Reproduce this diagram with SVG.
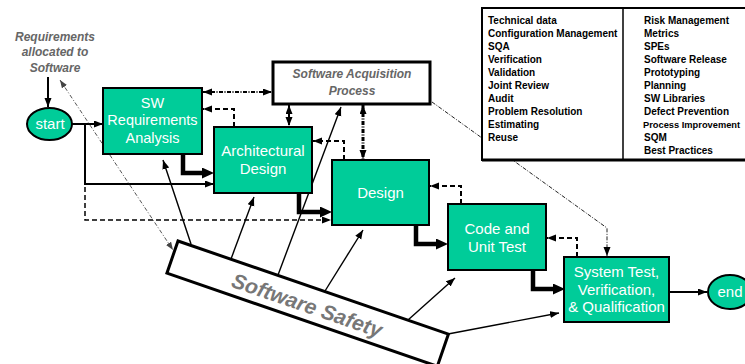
<svg xmlns="http://www.w3.org/2000/svg" width="745" height="364" viewBox="0 0 745 364">
<style>
.box{fill:#00CC99;stroke:#000;stroke-width:2}
.bt{font-family:"Liberation Sans",Arial,sans-serif;font-size:15px;fill:#fff;text-anchor:middle}
.gt{font-family:"Liberation Sans",Arial,sans-serif;font-weight:bold;font-style:italic;fill:#666;text-anchor:middle}
.tt{font-family:"Liberation Sans",Arial,sans-serif;font-weight:bold;font-size:10px;fill:#000}
.ln{fill:none;stroke:#000;stroke-width:2}
.thin{fill:none;stroke:#000;stroke-width:1.4}
.thick{fill:none;stroke:#000;stroke-width:4.5}
.dash{fill:none;stroke:#000;stroke-width:2;stroke-dasharray:5,3}
.dd{fill:none;stroke:#000;stroke-width:2;stroke-dasharray:4,1.5,1,1.5}
.gd{fill:none;stroke:#555;stroke-width:1;stroke-dasharray:4,2,1,2}
</style>
<defs>
<marker id="ah" markerUnits="userSpaceOnUse" markerWidth="10" markerHeight="8" refX="9" refY="3.5" orient="auto-start-reverse"><path d="M0,0 L9,3.5 L0,7 z" fill="#000"/></marker>
<marker id="aT" markerUnits="userSpaceOnUse" markerWidth="13" markerHeight="12" refX="0" refY="5.5" orient="auto"><path d="M0,0 L12,5.5 L0,11 z" fill="#000"/></marker>
<marker id="aG" markerUnits="userSpaceOnUse" markerWidth="10" markerHeight="8" refX="8" refY="3" orient="auto-start-reverse"><path d="M0,0 L8,3 L0,6 z" fill="#444"/></marker>
</defs>

<g id="connectors">
<path class="ln" d="M48,77 V107" marker-end="url(#ah)"/>
<path class="ln" d="M72,124 H103" marker-end="url(#ah)"/>
<path class="ln" d="M85,124 V184 H214" marker-end="url(#ah)"/>
<path class="dash" d="M85,187 V220 H331" marker-end="url(#ah)" style="stroke-width:1.5"/>
<path class="thick" d="M183,154 V173 H202" marker-end="url(#aT)"/>
<path class="thick" d="M299,193 V212 H320" marker-end="url(#aT)"/>
<path class="thick" d="M416,225 V244 H436" marker-end="url(#aT)"/>
<path class="thick" d="M533,270 V289 H553" marker-end="url(#aT)"/>
<path class="ln" d="M669,292 H707" marker-end="url(#ah)"/>
<path class="dash" d="M234,127 V109 H203" marker-end="url(#ah)"/>
<path class="dash" d="M344,160 V141 H313" marker-end="url(#ah)"/>
<path class="dash" d="M461,204 V186 H430" marker-end="url(#ah)"/>
<path class="dash" d="M577,257 V238 H547" marker-end="url(#ah)"/>
<path class="dd" d="M203,92 H272" marker-start="url(#ah)" marker-end="url(#ah)"/>
<path class="dd" d="M289,105 V126" marker-start="url(#ah)" marker-end="url(#ah)"/>
<path class="dd" d="M363,105 V159" marker-start="url(#ah)" marker-end="url(#ah)" style="stroke-width:3"/>
<path class="dd" d="M432,102 L607,228 V256" marker-end="url(#ah)" style="stroke-width:1;stroke:#222"/>
<path class="gd" d="M60,80 L173,250" marker-start="url(#aG)" marker-end="url(#aG)"/>
<path class="thin" d="M191,244 L163,160" marker-end="url(#ah)"/>
<path class="thin" d="M231,259 L254,197" marker-end="url(#ah)"/>
<path class="thin" d="M278,275 L341,107" marker-end="url(#ah)"/>
<path class="thin" d="M325,291 L363,230" marker-end="url(#ah)"/>
<path class="thin" d="M408,320 L455,278" marker-end="url(#ah)"/>
<path class="thin" d="M448,334 L559,313" marker-end="url(#ah)"/>
</g>

<g id="label-req">
<text class="gt" font-size="12" x="55" y="41">Requirements</text>
<text class="gt" font-size="12" x="55" y="56">allocated  to</text>
<text class="gt" font-size="12" x="55" y="72">Software</text>
</g>

<g id="start">
<ellipse class="box" cx="49.5" cy="124" rx="22.5" ry="16"/>
<text class="bt" x="50" y="129">start</text>
</g>

<g id="sw-req">
<rect class="box" x="103" y="88" width="99" height="66"/>
<text class="bt" x="152.5" y="108" style="font-size:14.5px">SW</text>
<text class="bt" x="152.5" y="125" style="font-size:14.5px">Requirements</text>
<text class="bt" x="152.5" y="143" style="font-size:14.5px">Analysis</text>
</g>

<g id="arch">
<rect class="box" x="214" y="127" width="98" height="66"/>
<text class="bt" x="263" y="156">Architectural</text>
<text class="bt" x="263" y="174">Design</text>
</g>

<g id="design">
<rect class="box" x="332" y="160" width="97" height="65"/>
<text class="bt" x="380.5" y="198">Design</text>
</g>

<g id="code">
<rect class="box" x="448" y="204" width="98" height="66"/>
<text class="bt" x="497" y="234">Code and</text>
<text class="bt" x="497" y="252">Unit Test</text>
</g>

<g id="system">
<rect class="box" x="564" y="257" width="105" height="65"/>
<text class="bt" x="616.5" y="277">System Test,</text>
<text class="bt" x="616.5" y="295">Verification,</text>
<text class="bt" x="616.5" y="312">&amp; Qualification</text>
</g>

<g id="end">
<ellipse class="box" cx="730" cy="292" rx="22" ry="17"/>
<text class="bt" x="730" y="297">end</text>
</g>

<g id="sap">
<rect x="273" y="62" width="157" height="42" fill="#fff" stroke="#000" stroke-width="3"/>
<text class="gt" font-size="12" x="352" y="78">Software Acquisition</text>
<text class="gt" font-size="12" x="352" y="95">Process</text>
</g>

<g id="safety" transform="translate(178,241) rotate(19)">
<rect x="0" y="0" width="286" height="34" fill="#fff" stroke="#000" stroke-width="3"/>
<text class="gt" font-size="21" x="143" y="26" style="fill:#777">Software Safety</text>
</g>

<g id="table">
<rect x="482" y="8" width="270" height="152" fill="#fff" stroke="#000" stroke-width="2"/>
<line x1="482" y1="160" x2="745" y2="160" stroke="#000" stroke-width="3"/>
<line x1="623" y1="8" x2="623" y2="160" stroke="#000" stroke-width="1.5"/>
<text class="tt" x="488" y="24">Technical data</text>
<text class="tt" x="488" y="37">Configuration Management</text>
<text class="tt" x="488" y="50">SQA</text>
<text class="tt" x="488" y="63">Verification</text>
<text class="tt" x="488" y="76">Validation</text>
<text class="tt" x="488" y="89">Joint Review</text>
<text class="tt" x="488" y="102">Audit</text>
<text class="tt" x="488" y="115">Problem Resolution</text>
<text class="tt" x="488" y="128">Estimating</text>
<text class="tt" x="488" y="141">Reuse</text>
<text class="tt" x="644" y="24">Risk Management</text>
<text class="tt" x="644" y="37">Metrics</text>
<text class="tt" x="644" y="50">SPEs</text>
<text class="tt" x="644" y="63">Software Release</text>
<text class="tt" x="644" y="76">Prototyping</text>
<text class="tt" x="644" y="89">Planning</text>
<text class="tt" x="644" y="102">SW Libraries</text>
<text class="tt" x="644" y="115">Defect Prevention</text>
<text class="tt" x="643" y="128" style="font-size:9.3px">Process Improvement</text>
<text class="tt" x="644" y="141">SQM</text>
<text class="tt" x="644" y="154">Best Practices</text>
</g>
</svg>
